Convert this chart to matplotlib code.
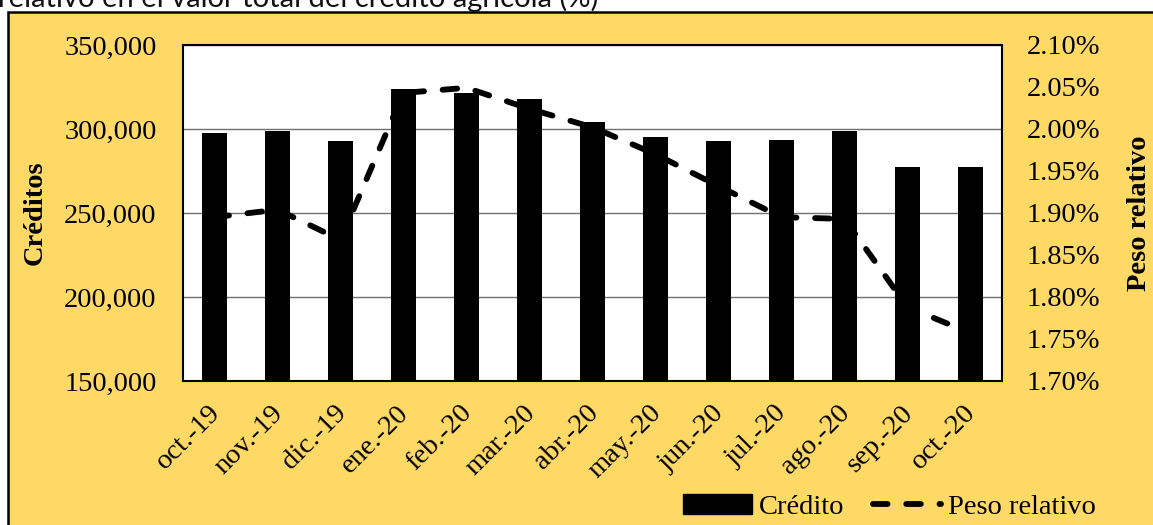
import matplotlib
matplotlib.use("Agg")
import matplotlib.pyplot as plt
from matplotlib.patches import Rectangle, Patch
from matplotlib.lines import Line2D
from matplotlib.ticker import FuncFormatter, MultipleLocator
import matplotlib.transforms as mtransforms

meses = ["oct.-19", "nov.-19", "dic.-19", "ene.-20", "feb.-20", "mar.-20", "abr.-20",
         "may.-20", "jun.-20", "jul.-20", "ago.-20", "sep.-20", "oct.-20"]
credito = [297600, 298600, 292600, 323800, 321400, 317900, 304100,
           295000, 292700, 293700, 298800, 277600, 277600]
peso = [1.895, 1.904, 1.868, 2.043, 2.049, 2.024, 2.002,
        1.970, 1.932, 1.895, 1.893, 1.788, 1.757]

W, H = 1153, 525
fig = plt.figure(figsize=(W / 100, H / 100), dpi=100)
fig.patch.set_facecolor("white")

serif = "Liberation Serif"
fs = 20.5
dash = (0, (2.5, 3.2))
lw = 4.2

# outer yellow box
fig.add_artist(Rectangle((8 / W, -0.05), 1.2, (H - 12) / H + 0.05, transform=fig.transFigure,
                         facecolor="#FFD966", edgecolor="black", linewidth=1.8, zorder=0))

# cut-off caption at the top
fig.text(-2 / W, 1 - 7 / H, "relativo en el valor total del crédito agrícola (%)",
         family="Lato", fontsize=21, va="baseline", ha="left", color="#111111")

L, R, T, B = 183, 1002, 45, 381
ax = fig.add_axes([L / W, 1 - B / H, (R - L) / W, (B - T) / H])
ax.set_facecolor("white")
x = list(range(len(meses)))
ax.bar(x, credito, width=0.4, color="black", zorder=3)
ax.set_ylim(150000, 350000)
ax.set_xlim(-0.5, len(meses) - 0.5)
ax.yaxis.set_major_locator(MultipleLocator(50000))
ax.yaxis.set_major_formatter(FuncFormatter(lambda v, p: f"{int(v):,}"))
ax.grid(axis="y", color="#707070", linewidth=1.0, zorder=0)
ax.set_axisbelow(True)
ax.tick_params(axis="y", length=0, pad=19, labelsize=fs)
ax.tick_params(axis="x", length=0, pad=14, labelsize=fs)
ax.set_xticks(x)
ax.set_xticklabels(meses, rotation=45, ha="right", va="top", rotation_mode="anchor")
off = mtransforms.ScaledTranslation(-7 / 100, 0, fig.dpi_scale_trans)
for lbl in ax.get_xticklabels():
    lbl.set_transform(lbl.get_transform() + off)
for lbl in ax.get_xticklabels() + ax.get_yticklabels():
    lbl.set_family(serif)
for sp in ax.spines.values():
    sp.set_color("black")
    sp.set_linewidth(1.5)
ax.set_ylabel("Créditos", family=serif, fontsize=fs, fontweight="bold")
ax.yaxis.set_label_coords(-(L - 48) / (R - L), 0.5)

ax2 = ax.twinx()
ax2.plot(x, peso, color="black", linewidth=lw, linestyle=dash,
         dash_capstyle="round", zorder=4)
ax2.set_ylim(1.70, 2.10)
ax2.yaxis.set_major_locator(MultipleLocator(0.05))
ax2.yaxis.set_major_formatter(FuncFormatter(lambda v, p: f"{v:.2f}%"))
ax2.tick_params(axis="y", length=0, pad=18, labelsize=fs)
for lbl in ax2.get_yticklabels():
    lbl.set_family(serif)
for sp in ax2.spines.values():
    sp.set_visible(False)
ax2.set_ylabel("Peso relativo", family=serif, fontsize=fs, fontweight="bold", rotation=90)
ax2.yaxis.set_label_coords(1 + (1127 - R) / (R - L), 0.5)

handles = [Patch(facecolor="black", edgecolor="black"),
           Line2D([0], [0], color="black", linewidth=lw, linestyle=dash,
                  dash_capstyle="round")]
fig.legend(handles, ["Crédito", "Peso relativo"], ncol=2, frameon=False,
           loc="center right", bbox_to_anchor=(1096 / W, 18 / H),
           prop={"family": serif, "size": fs}, handlelength=2.4, handletextpad=0.25,
           columnspacing=1.0, borderpad=0, borderaxespad=0)

fig.savefig("out.png", dpi=100, facecolor=fig.get_facecolor())
